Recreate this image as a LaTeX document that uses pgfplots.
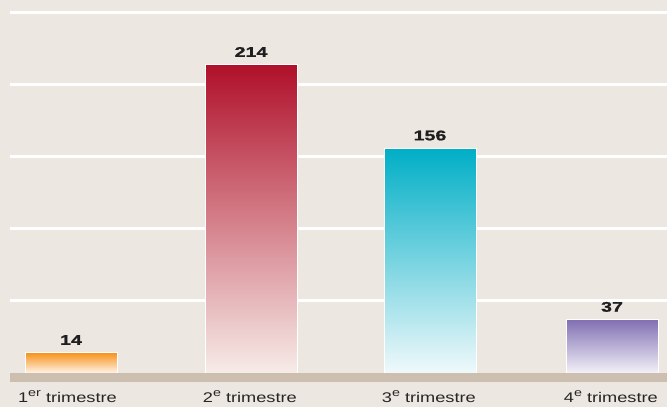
\documentclass[border=0pt]{standalone}
\usepackage{fontspec}
\setmainfont{Liberation Sans}[FakeStretch=1.3]
\newfontfamily\numfont{Liberation Sans}[FakeStretch=1.4, FakeBold=1.2]
\usepackage{pgfplots}
\pgfplotsset{compat=1.18}
\newcommand{\supr}[1]{\raisebox{0.38em}{\fontsize{11bp}{11bp}\selectfont #1}}
\definecolor{bg}{HTML}{ECE7E1}
\definecolor{band}{HTML}{CCBFB0}
\definecolor{c1t}{HTML}{F7931E}\definecolor{c1b}{HTML}{FFF4E8}
\definecolor{c2t}{HTML}{B0102A}\definecolor{c2b}{HTML}{F7ECE8}
\definecolor{c3t}{HTML}{00AEC6}\definecolor{c3b}{HTML}{F0F9FB}
\definecolor{c4t}{HTML}{8170B3}\definecolor{c4b}{HTML}{F3F1F8}
\begin{document}
\begin{tikzpicture}
\fill[bg] (0,0) rectangle (667bp,407bp);
\useasboundingbox (0,0) rectangle (667bp,407bp);
\begin{axis}[
  at={(10bp,34bp)}, anchor=south west,
  scale only axis, width=657bp, height=360bp,
  xmin=0, xmax=657, ymin=0, ymax=250,
  clip=false,
  /pgf/number format/assume math mode=true,
  axis line style={draw=none},
  major tick length=0pt,
  ytick={50,100,150,200,250}, yticklabels={},
  ymajorgrids, grid style={white, line width=3bp},
  xtick={61,241,420,602},
  xticklabels={1\supr{er} trimestre,2\supr{e} trimestre,3\supr{e} trimestre,4\supr{e} trimestre},
  xticklabel style={anchor=base east, inner xsep=0pt, xshift=46bp, yshift=-29bp, font=\fontsize{14bp}{16bp}\selectfont, text=black!85},
  nodes near coords={\pgfmathprintnumber{\pgfplotspointmeta}},
  every node near coord/.append style={anchor=base, yshift=8bp, font=\fontsize{14bp}{16bp}\numfont\bfseries, text=black!88},
]
\addplot[ybar, bar width=92bp, draw=white, line width=1bp, top color=c1t, bottom color=c1b] coordinates {(61,14)};
\addplot[ybar, bar width=92bp, draw=white, line width=1bp, top color=c2t, bottom color=c2b] coordinates {(241,214)};
\addplot[ybar, bar width=92bp, draw=white, line width=1bp, top color=c3t, bottom color=c3b] coordinates {(420,156)};
\addplot[ybar, bar width=92bp, draw=white, line width=1bp, top color=c4t, bottom color=c4b] coordinates {(602,37)};
\fill[band] (axis cs:0,0) rectangle ([yshift=-9bp]axis cs:657,0);
\end{axis}
\end{tikzpicture}
\end{document}
